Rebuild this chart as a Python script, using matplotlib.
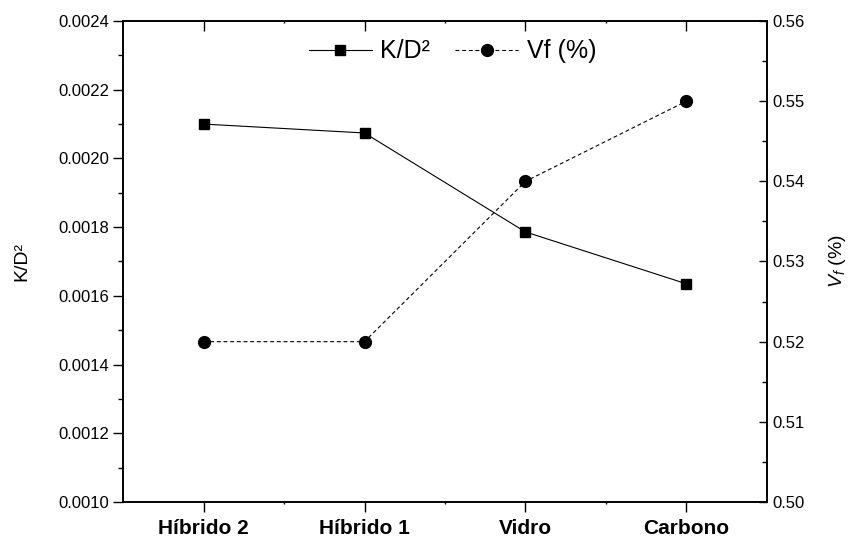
import matplotlib
matplotlib.use("Agg")
import matplotlib.pyplot as plt
from matplotlib.ticker import MultipleLocator, FixedLocator

plt.rcParams['font.family'] = ['Liberation Sans', 'DejaVu Sans']
plt.rcParams['mathtext.fontset'] = 'custom'
plt.rcParams['mathtext.rm'] = 'Liberation Sans'
plt.rcParams['mathtext.it'] = 'Liberation Sans:italic'

categories = ["Híbrido 2", "Híbrido 1", "Vidro", "Carbono"]
k_d2 = [0.00210, 0.002074, 0.001786, 0.001635]
vf = [0.52, 0.52, 0.54, 0.55]

fig = plt.figure(figsize=(8.52, 5.38), dpi=100)
ax = fig.add_axes([0.1444, 0.0669, 0.7558, 0.8941])
ax2 = ax.twinx()

x = list(range(len(categories)))
l1, = ax.plot(x, k_d2, color='black', lw=0.8, marker='s', markersize=7.5,
              label='K/D²')
l2, = ax2.plot(x, vf, color='black', lw=0.8, ls=(0, (3.5, 2.5)), marker='o',
               markersize=8.5, label='Vf (%)')

ax.set_xlim(-0.5, 3.5)
ax.set_ylim(0.0010, 0.0024)
ax2.set_ylim(0.50, 0.56)

ax.set_xticks(x)
ax.set_xticklabels(categories, fontsize=15, fontweight='bold')
ax.xaxis.set_minor_locator(FixedLocator([0.5, 1.5, 2.5]))
ax.yaxis.set_major_locator(MultipleLocator(0.0002))
ax.yaxis.set_minor_locator(MultipleLocator(0.0001))
ax.yaxis.set_major_formatter(plt.FuncFormatter(lambda v, p: f"{v:.4f}"))
ax2.yaxis.set_major_locator(MultipleLocator(0.01))
ax2.yaxis.set_minor_locator(MultipleLocator(0.005))
ax2.yaxis.set_major_formatter(plt.FuncFormatter(lambda v, p: f"{v:.2f}"))

ax.tick_params(axis='y', which='major', direction='out', length=7, width=1,
               labelsize=12, pad=3)
ax.tick_params(axis='y', which='minor', direction='out', length=3.5, width=1)
ax.tick_params(axis='x', which='major', direction='out', length=7, width=1,
               top=True, pad=5)
ax.tick_params(axis='x', which='minor', direction='out', length=1.5, width=1,
               top=True)
ax2.tick_params(axis='y', which='major', direction='in', length=6, width=1,
                labelsize=12, pad=4)
ax2.tick_params(axis='y', which='minor', direction='in', length=3.5, width=1)

# top ticks point into the plot
for t in ax.xaxis.get_major_ticks() + ax.xaxis.get_minor_ticks():
    t.tick2line.set_marker(3)

for a in (ax, ax2):
    for s in a.spines.values():
        s.set_linewidth(1.2)

ax.set_ylabel('K/D²', fontsize=14, labelpad=20)
ax2.set_ylabel('$V_f$ (%)', fontsize=14, labelpad=16)

ax.legend([l1, l2], ['K/D²', 'Vf (%)'], loc='upper center',
          bbox_to_anchor=(0.512, 0.993), ncol=2, frameon=False, fontsize=18,
          handlelength=2.5, handletextpad=0.35, columnspacing=1.0,
          numpoints=1, borderaxespad=0.2)

fig.savefig('out.png', dpi=100)
